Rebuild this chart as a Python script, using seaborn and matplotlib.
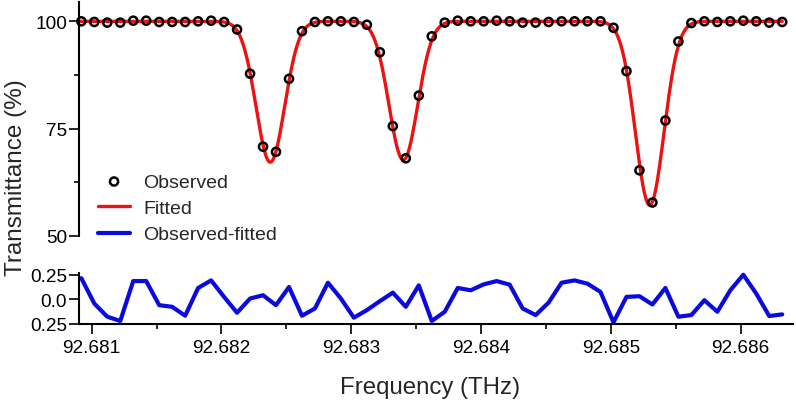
import numpy as np
import pandas as pd
import seaborn as sns
import matplotlib.pyplot as plt
from matplotlib.ticker import FixedLocator

# frequency grid of the measurement (THz)
freq_start = 92.68092
freq_step = 0.0001
n_points = 55

# observed transmittance (%)
observed = [100.0, 99.85, 99.7, 99.7, 100.15, 100.15, 99.85, 99.85, 99.85, 100.0, 100.15, 99.85,
            98.1, 87.8, 70.8, 69.6, 86.6, 97.7, 99.85, 100.0, 100.0, 99.85, 99.2, 92.8, 75.6,
            68.1, 82.7, 96.5, 99.7, 100.15, 100.0, 100.0, 100.15, 100.0, 99.7, 99.7, 99.85, 100.0,
            100.0, 100.0, 100.0, 98.5, 88.4, 65.3, 57.8, 76.9, 95.3, 99.6,
            100.0, 99.85, 100.0, 100.15, 100.0, 99.7, 99.85]

# observed - fitted
residual = [0.217, -0.044, -0.18, -0.224, 0.187, 0.187, -0.061, -0.078, -0.17, 0.116,
            0.194, 0.024, -0.139, 0.007, 0.041, -0.061, 0.126, -0.17, -0.095, 0.17,
            0.007, -0.19, -0.112, -0.02, 0.068, -0.078, 0.143, -0.224, -0.129, 0.116,
            0.092, 0.153, 0.187, 0.15, -0.095, -0.163, -0.035, 0.17, 0.194, 0.16,
            0.075, -0.238, 0.024, 0.031, -0.054, 0.116, -0.18, -0.163, -0.01, -0.129,
            0.092, 0.252, 0.058, -0.173, -0.156]

# fitted gaussian absorption lines
line_centers = [92.682376, 92.683401, 92.685299]
line_depths = [32.8, 32.3, 42.8]
line_widths = [0.00011, 0.00011, 0.00011]
baseline = 100.0

freq = freq_start + freq_step * np.arange(n_points)
df = pd.DataFrame({"freq": freq, "obs": observed, "res": residual})

fine = np.linspace(freq[0] - 0.00002, freq[-1], 1500)
fit = np.full_like(fine, baseline)
for c, d, w in zip(line_centers, line_depths, line_widths):
    fit -= d * np.exp(-(fine - c) ** 2 / (2 * w ** 2))
df_fit = pd.DataFrame({"freq": fine, "fit": fit})

sns.set_style("ticks")
plt.rcParams["font.family"] = ["Liberation Sans", "DejaVu Sans"]

fig = plt.figure(figsize=(7.96, 4.06), dpi=100)
left, width = 79 / 796, 714 / 796
ax = fig.add_axes([left, 1 - 237 / 406, width, 234 / 406])
axr = fig.add_axes([left, 1 - 325 / 406, width, 51 / 406])

xlim = (92.6809022, 92.686403)

sns.lineplot(data=df_fit, x="freq", y="fit", color="#ee1111", lw=2.4, ax=ax,
             label="Fitted", zorder=2)
sns.scatterplot(data=df, x="freq", y="obs", ax=ax, s=34, facecolor="none",
                edgecolor="black", linewidth=1.8, label="Observed", zorder=3,
                clip_on=False)
sns.lineplot(data=df, x="freq", y="res", color="#0a0adf", lw=3, ax=axr,
             label="Observed-fitted", clip_on=False)

ax.set_xlim(*xlim)
ax.set_ylim(50, 104.5)
ax.set_yticks([50, 75, 100])
ax.yaxis.set_minor_locator(FixedLocator([62.5, 87.5]))
ax.set_xticks([])
ax.set_xlabel("")
ax.set_ylabel("")
for s in ["top", "right", "bottom"]:
    ax.spines[s].set_visible(False)

axr.set_xlim(*xlim)
axr.set_ylim(-0.255, 0.27)
axr.set_yticks([-0.25, 0.0, 0.25])
axr.set_yticklabels(["0.25", "0.0", "0.25"])
axr.set_xticks([92.681, 92.682, 92.683, 92.684, 92.685, 92.686])
axr.set_xticklabels(["92.681", "92.682", "92.683", "92.684", "92.685", "92.686"])
axr.xaxis.set_minor_locator(FixedLocator([92.6815, 92.6825, 92.6835, 92.6845,
                                          92.6855]))
axr.set_xlabel("")
axr.set_ylabel("")
for s in ["top", "right"]:
    axr.spines[s].set_visible(False)

for a in (ax, axr):
    for s in ["left", "bottom"]:
        a.spines[s].set_linewidth(1.5)
        a.spines[s].set_color("black")
    a.tick_params(which="major", direction="out", length=7, width=1.2,
                  labelsize=13.7, colors="black", pad=1.5)
    a.tick_params(which="minor", direction="out", length=3.5, width=1.2,
                  colors="black")
axr.tick_params(axis="x", which="major", pad=4)

h1, l1 = ax.get_legend_handles_labels()
h2, l2 = axr.get_legend_handles_labels()
axr.get_legend().remove()
handles = {l: h for h, l in zip(h1 + h2, l1 + l2)}
order = ["Observed", "Fitted", "Observed-fitted"]
ax.legend([handles[k] for k in order], order, loc="upper left",
          bbox_to_anchor=(98 / 796, 1 - 174 / 406), bbox_transform=fig.transFigure,
          frameon=False, fontsize=14, borderpad=0, borderaxespad=0,
          handlelength=1.65, handletextpad=0.67, labelspacing=0.45, scatterpoints=1)

fig.text(430 / 796, 1 - 388 / 406, "Frequency (THz)", ha="center", va="center",
         fontsize=17.3)
fig.text(16 / 796, 1 - 178 / 406, "Transmittance (%)", ha="center", va="center",
         rotation=90, fontsize=17.5)

fig.savefig("out.png", dpi=100)
